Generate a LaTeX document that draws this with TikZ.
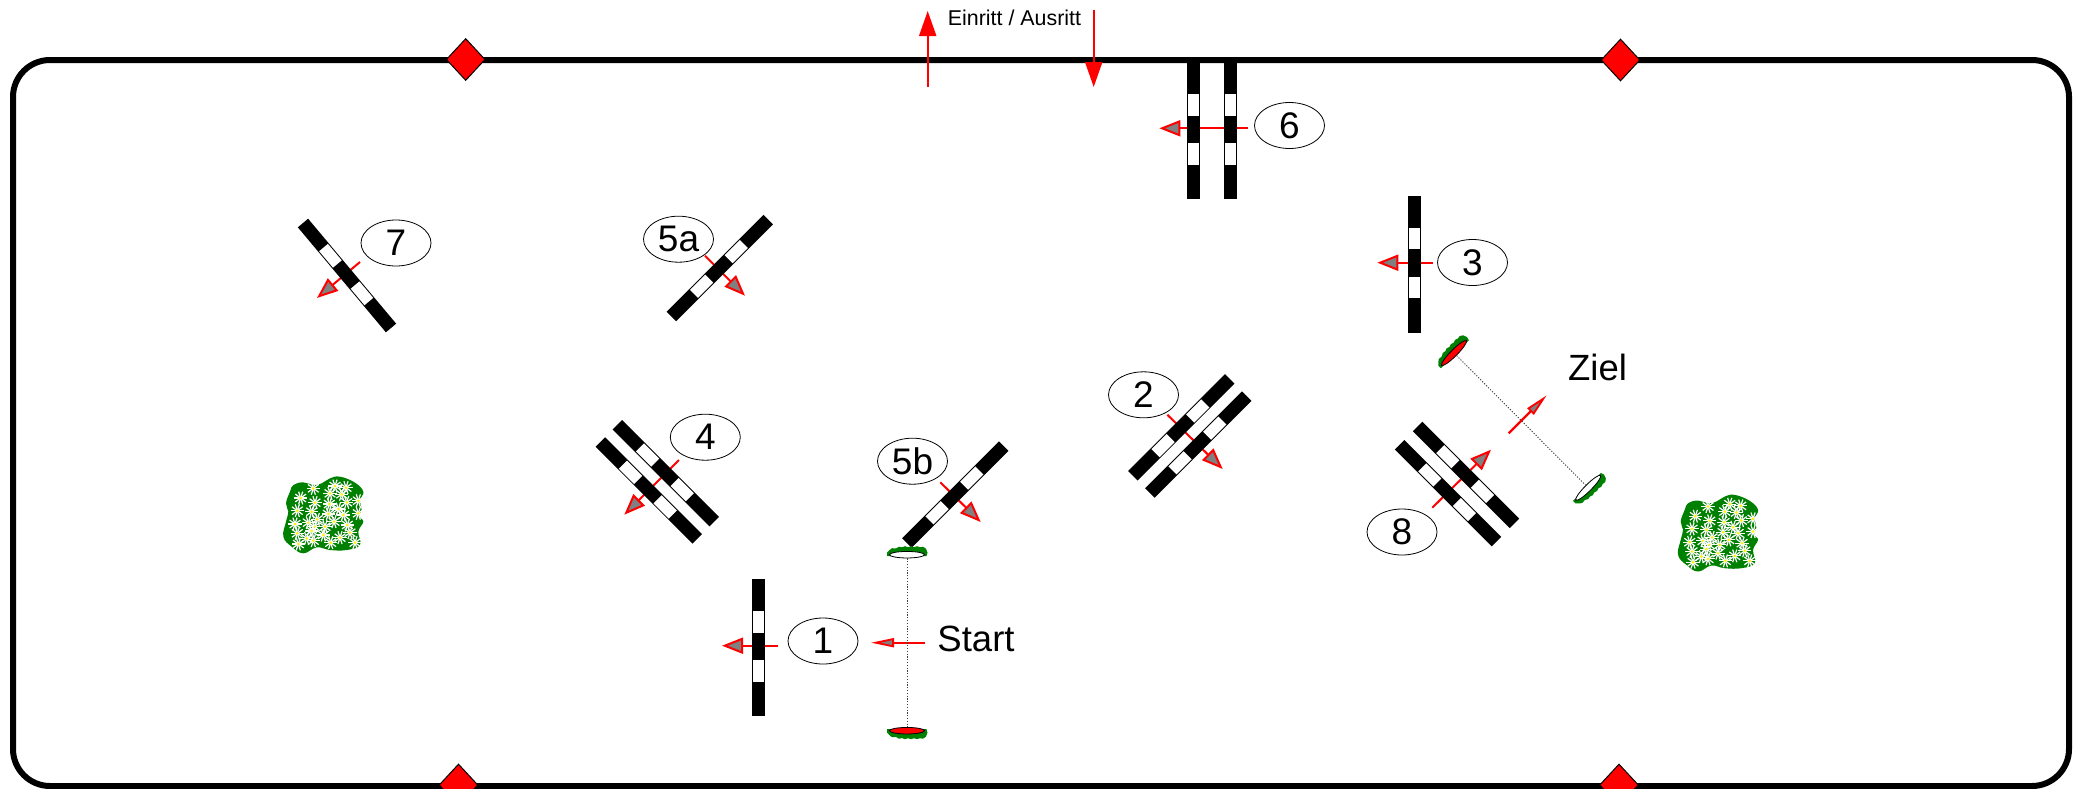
\documentclass[tikz,border=0pt]{standalone}
\usepackage{fontspec}
\setmainfont{Liberation Sans}
\usetikzlibrary{arrows.meta,shapes.geometric}
\definecolor{bushgreen}{RGB}{0,128,0}
\tikzset{
  framepath/.style={draw=black,line width=6pt,rounded corners=37pt},
  cornermark/.style={shape=diamond,draw=black,fill=red,line width=1pt,minimum width=39pt,minimum height=42pt,inner sep=0pt},
  numring/.style={shape=ellipse,draw=black,line width=0.8pt,minimum width=70pt,minimum height=46pt,inner sep=0pt,font=\fontsize{37}{40}\selectfont},
  bigword/.style={anchor=base,inner sep=0pt,font=\fontsize{36.5}{40}\selectfont},
  smallword/.style={anchor=base,inner sep=0pt,font=\fontsize{21.4}{24}\selectfont},
  jumparrow/.style={draw=red,line width=2pt,-{Triangle[length=21pt,width=16pt,fill=gray,line width=2pt]}},
  linearrow/.style={draw=red,line width=2.2pt,-{Triangle[length=23pt,width=9pt,fill=gray,line width=1.8pt]}},
  entryarrow/.style={draw=red,line width=2pt,-{Triangle[length=25pt,width=17pt,fill=red]}},
  flagdisc/.style={shape=ellipse,draw=black,line width=0.8pt,minimum width=35pt,minimum height=6.5pt,inner sep=0pt},
  sightline/.style={draw=black!75,line width=0.9pt,dash pattern=on 1.2pt off 1.6pt},
}
\newcommand{\jumpbar}[3]{%
  \begin{scope}[shift={(#1,#2)},rotate=#3]
    \fill[black] (-68.5,-6.7) rectangle (68.5,6.7);
    \fill[white] (-36.5,-5.7) rectangle (-15,5.7);
    \fill[white] (12.5,-5.7) rectangle (34,5.7);
  \end{scope}}
\newcommand{\flaggrass}[4]{%
  \begin{scope}[shift={(#1,#2)},rotate=#3,yscale=#4]
    \fill[bushgreen] (-20,1.5) -- (-20,-2) -- (-17,-5) -- (-15,-6.5) -- (-11,-6.2) -- (-8,-8) -- (-5,-7.4) -- (-2,-8.5) -- (1,-7.5) -- (4,-8.5) -- (7,-7.5) -- (10,-8.5) -- (13,-7.5) -- (16,-8) -- (19,-6) -- (20.5,-2) -- (19.5,1.5) -- cycle;
  \end{scope}}
\newcommand{\flowerbush}[2]{%
  \begin{scope}[shift={(#1,#2)},scale=0.33333]
    \fill[bushgreen] plot[smooth cycle,tension=0.7] coordinates {(100,105) (130,97) (160,105) (185,100) (210,85) (240,80) (285,98) (310,125) (300,150) (305,180) (298,200) (310,215) (295,245) (300,285) (260,300) (210,300) (170,292) (130,310) (95,290) (70,260) (78,215) (85,185) (78,160) (90,125)};
    \foreach \fx/\fy in {160/115,225/108,258/113,210/130,245/133,122/144,165/158,208/162,260/157,295/152,235/177,112/182,155/185,205/192,250/195,295/190,172/208,222/215,105/222,145/218,262/225,195/230,163/230,155/243,112/250,190/255,270/248,140/265,160/272,240/263,212/278,115/282,285/278}{
      \foreach \pa in {0,36,...,324}{
        \draw[white,line width=1.2pt] (\fx,\fy) -- ++(\pa:20);
      }
      \fill[yellow] (\fx,\fy) circle[radius=4.5];
    }
  \end{scope}}
\begin{document}
\begin{tikzpicture}[x=1pt,y=-1pt]
\useasboundingbox (0,0) rectangle (2077,788);
\fill[white] (0,0) rectangle (2077,788);
% arena
\draw[framepath] (13,60) rectangle (2069,786);
\node[cornermark] (dtl) at (465.7,59.5) {};
\node[cornermark] (dtr) at (1620.5,60) {};
\node[cornermark] (dbl) at (458.5,785) {};
\node[cornermark] (dbr) at (1619,785) {};
% decorations
\flowerbush{260}{450}
\flowerbush{1654.7}{468.2}
% entry
\coordinate (inT) at (927.7,87);  \coordinate (inH) at (927.7,11);
\coordinate (outT) at (1093.7,10); \coordinate (outH) at (1093.7,87);
\draw[entryarrow] (inT) -- (inH);
\draw[entryarrow] (outT) -- (outH);
\node[smallword] (entrytext) at (1014.5,25) {Einritt / Ausritt};
% arrows under the jumps
\foreach \nm/\ax/\ay/\bx/\by in {a/778/645.7/722/645.7, b/1167.3/414.7/1222.7/469, c/1433/262.7/1377.3/262.7, d/679/460/624.3/514.7, e/705/255.7/745/295.7, f/940.3/482.3/980.7/522, g/1247.7/128.3/1159.3/128.3, h/360/262/317/298, i/1432.3/507.7/1491/449.7}{
  \coordinate (\nm T) at (\ax,\ay);
  \coordinate (\nm H) at (\bx,\by);
  \draw[jumparrow] (\nm T) -- (\nm H);
}
% jumps
\jumpbar{758.5}{647.5}{-90}
\jumpbar{1181.3}{427.4}{45}
\jumpbar{1198.3}{444.6}{45}
\jumpbar{1414.2}{264.3}{-90}
\jumpbar{665.8}{473.2}{-45}
\jumpbar{648.8}{490.5}{-45}
\jumpbar{719.8}{268}{45}
\jumpbar{955.3}{494.5}{45}
\jumpbar{1193.7}{130.5}{-90}
\jumpbar{1230.2}{130.5}{-90}
\jumpbar{347}{275.5}{-50}
\jumpbar{1466}{474.9}{-45}
\jumpbar{1448}{493.1}{-45}
% number rings
\node[numring] (n1) at (823,641) {1};
\node[numring] (n2) at (1143.5,394.8) {2};
\node[numring] (n3) at (1472.5,262.5) {3};
\node[numring] (n4) at (705.3,437.2) {4};
\node[numring] (n5a) at (678.5,239.2) {5a};
\node[numring] (n5b) at (912.5,461.2) {5b};
\node[numring] (n6) at (1289.5,125.5) {6};
\node[numring] (n7) at (396,243) {7};
\node[numring] (n8) at (1402,532) {8};
% start line
\flaggrass{907}{554.7}{0}{1}
\flaggrass{907}{730.7}{0}{-1}
\node[flagdisc,fill=white] (sw) at (907,554.7) {};
\node[flagdisc,fill=red] (sr) at (907,730.7) {};
\coordinate (stT) at (925,642.7); \coordinate (stH) at (871,642.7);
\draw[linearrow] (stT) -- (stH);
\draw[sightline] (sw) -- (sr);
\node[bigword] (starttext) at (976,651) {Start};
% finish line
\flaggrass{1454}{353}{45}{1}
\flaggrass{1588.2}{487.8}{45}{-1}
\node[flagdisc,fill=red,rotate=45] (zr) at (1454,353) {};
\node[flagdisc,fill=white,rotate=45] (zw) at (1588.2,487.8) {};
\coordinate (ziT) at (1508.7,433.3); \coordinate (ziH) at (1546.7,395.3);
\draw[linearrow] (ziT) -- (ziH);
\draw[sightline] (zr) -- (zw);
\node[bigword] (zieltext) at (1597.5,380) {Ziel};
\end{tikzpicture}
\end{document}
